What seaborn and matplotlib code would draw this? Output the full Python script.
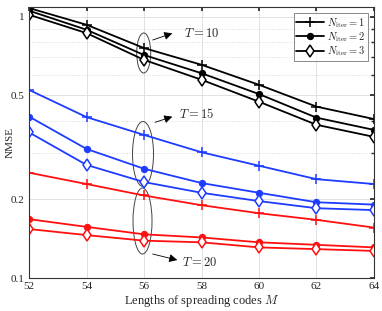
import pandas as pd
import matplotlib.pyplot as plt
import seaborn as sns
from matplotlib.patches import Ellipse
from matplotlib.ticker import FixedLocator, NullFormatter

# =========================
# 1. Data
# =========================
M = [52, 54, 56, 58, 60, 62, 64]

# T = 10 (black)
t10_iter1 = [1.08, 0.932, 0.759, 0.655, 0.549, 0.453, 0.406]
t10_iter2 = [1.055, 0.892, 0.714, 0.608, 0.506, 0.411, 0.369]
t10_iter3 = [1.018, 0.866, 0.684, 0.574, 0.473, 0.386, 0.347]

# T = 15 (blue)
t15_iter1 = [0.525, 0.413, 0.353, 0.303, 0.269, 0.239, 0.229]
t15_iter2 = [0.415, 0.312, 0.262, 0.231, 0.212, 0.195, 0.191]
t15_iter3 = [0.361, 0.271, 0.233, 0.212, 0.197, 0.185, 0.182]

# T = 20 (red)
t20_iter1 = [0.253, 0.229, 0.207, 0.190, 0.177, 0.167, 0.156]
t20_iter2 = [0.168, 0.157, 0.147, 0.143, 0.137, 0.134, 0.131]
t20_iter3 = [0.154, 0.146, 0.139, 0.137, 0.131, 0.129, 0.127]

legend_labels = [r"$N_{\rm iter}=1$", r"$N_{\rm iter}=2$", r"$N_{\rm iter}=3$"]

groups = {
    "black": [t10_iter1, t10_iter2, t10_iter3],
    "#1e3cff": [t15_iter1, t15_iter2, t15_iter3],
    "#ff1010": [t20_iter1, t20_iter2, t20_iter3],
}
marker_styles = [
    dict(marker="+", markersize=7, markeredgewidth=1.1),
    dict(marker="o", markersize=4.5),
    dict(marker="d", markersize=6, markerfacecolor="white", markeredgewidth=1.1),
]

# =========================
# 2. Plot
# =========================
sns.set_theme(style="white")
plt.rcParams["font.family"] = ["Liberation Serif", "DejaVu Serif"]
plt.rcParams["mathtext.fontset"] = "cm"

fig, ax = plt.subplots(figsize=(3.82, 3.11), dpi=100)
fig.subplots_adjust(left=0.076, right=0.979, top=0.9775, bottom=0.106)

for color, series in groups.items():
    for i, vals in enumerate(series):
        df = pd.DataFrame({"M": M, "NMSE": vals})
        sns.lineplot(
            data=df, x="M", y="NMSE", ax=ax, color=color, lw=1.3,
            label=legend_labels[i] if color == "black" else None,
            mec=color, **marker_styles[i],
        )

ax.set_yscale("log")
ax.set_xlim(52, 64)
ax.set_ylim(0.1, 1.09)
ax.set_xticks(M)
ax.yaxis.set_major_locator(FixedLocator([0.1, 0.2, 0.5, 1]))
ax.set_yticklabels(["0.1", "0.2", "0.5", "1"])
ax.yaxis.set_minor_locator(FixedLocator([0.3, 0.4, 0.6, 0.7, 0.8, 0.9]))
ax.yaxis.set_minor_formatter(NullFormatter())

ax.grid(True, which="major", color="#dcdcdc", lw=0.6, ls="-")
ax.grid(True, which="minor", axis="y", color="#cfcfcf", lw=0.6, ls=(0, (1, 2)))
ax.tick_params(direction="in", top=True, right=True, labelsize=8, length=3, pad=3)
ax.tick_params(which="minor", direction="in", right=True, length=2)
for s in ax.spines.values():
    s.set_color("#333333")
    s.set_linewidth(0.8)

ax.set_xlabel(r"Lengths of spreading codes $M$", fontsize=9, labelpad=1)
ax.set_ylabel("NMSE", fontsize=8)
ax.yaxis.set_label_coords(-0.042, 0.5)

leg = ax.legend(loc="upper right", fontsize=7.5, frameon=True, fancybox=False,
                edgecolor="#555555", handlelength=2.6, borderpad=0.25,
                labelspacing=0.05, handletextpad=0.3, borderaxespad=0.6)
leg.get_frame().set_linewidth(0.6)

# =========================
# 3. Annotations (ellipses + arrows), in axes fractions
# =========================
def fx(px):
    return (px - 29) / 345

def fy(py):
    return (278 - py) / 271

for cx, cy, w, h in [(143.7, 53, 14, 40), (143, 154, 21, 65), (142.5, 221, 19, 66)]:
    ax.add_patch(Ellipse((fx(cx), fy(cy)), w / 345, h / 271, transform=ax.transAxes,
                         fill=False, ec="#444444", lw=0.7))

for (x0, y0), (x1, y1), (tx, ty), txt in [
    ((152.7, 40), (172.3, 33.3), (184, 33.3), r"$T=10$"),
    ((155, 122.3), (172.3, 116.7), (179.3, 114.3), r"$T=15$"),
    ((152.7, 254), (177.3, 260), (181.7, 262.3), r"$T=20$"),
]:
    ax.annotate("", xy=(fx(x1), fy(y1)), xytext=(fx(x0), fy(y0)),
                xycoords="axes fraction", textcoords="axes fraction",
                arrowprops=dict(arrowstyle="-|>", color="black", lw=0.6,
                                mutation_scale=12, shrinkA=0, shrinkB=0))
    ax.text(fx(tx), fy(ty), txt, transform=ax.transAxes, fontsize=9,
            va="center", ha="left")

plt.savefig("out.png", dpi=100)
